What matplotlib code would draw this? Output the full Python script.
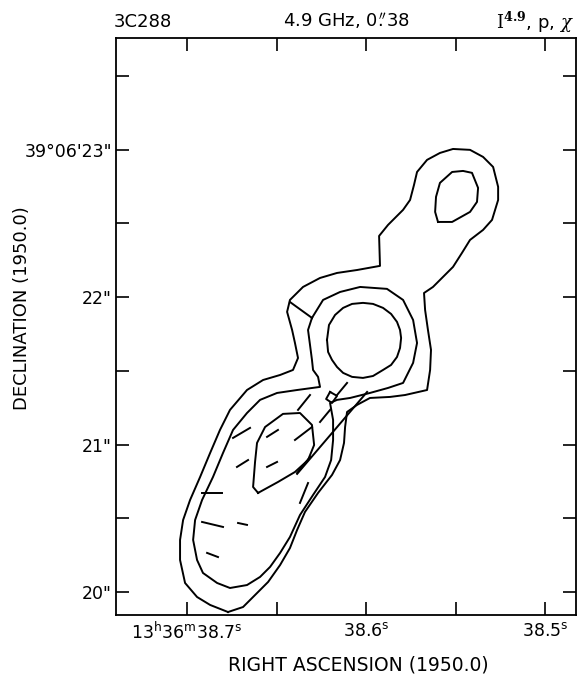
import matplotlib
matplotlib.use("Agg")
import matplotlib.pyplot as plt
from matplotlib.ticker import FixedLocator

# 3C288 at 4.9 GHz, 0.38" beam: total intensity contours + polarization vectors
# RA in seconds of time (13h36m), Dec in arcsec (39d06m)

# lowest contour, encloses the whole source
outer_ra = [38.6771, 38.6871, 38.6944, 38.7011, 38.7039, 38.7039, 38.7022, 38.6983,
            38.6927, 38.6871, 38.6816, 38.6760, 38.6665, 38.6575, 38.6480, 38.6408,
            38.6380, 38.6397, 38.6413, 38.6441, 38.6425, 38.6352, 38.6257, 38.6162,
            38.6050, 38.5922, 38.5927, 38.5877, 38.5793, 38.5754, 38.5732, 38.5715,
            38.5659, 38.5587, 38.5514, 38.5419, 38.5346, 38.5290, 38.5262, 38.5262,
            38.5296, 38.5346, 38.5419, 38.5464, 38.5514, 38.5570, 38.5626, 38.5676,
            38.5670, 38.5654, 38.5637, 38.5642, 38.5659, 38.5782, 38.5866, 38.5978,
            38.6050, 38.6106, 38.6117, 38.6123, 38.6145, 38.6190, 38.6268, 38.6341,
            38.6385, 38.6425, 38.6480, 38.6547, 38.6631, 38.6687, 38.6771]
outer_dec = [19.864, 19.912, 19.966, 20.061, 20.217, 20.353, 20.488, 20.624,
             20.780, 20.943, 21.099, 21.235, 21.370, 21.438, 21.472, 21.506,
             21.587, 21.689, 21.777, 21.900, 21.981, 22.069, 22.130, 22.164,
             22.184, 22.212, 22.415, 22.490, 22.592, 22.659, 22.761, 22.849,
             22.931, 22.978, 23.005, 22.999, 22.951, 22.883, 22.748, 22.659,
             22.524, 22.456, 22.388, 22.300, 22.205, 22.137, 22.069, 22.028,
             21.913, 21.777, 21.642, 21.506, 21.370, 21.336, 21.323, 21.316,
             21.269, 21.221, 21.119, 21.011, 20.895, 20.794, 20.672, 20.543,
             20.421, 20.298, 20.183, 20.068, 19.966, 19.898, 19.864]

# second contour: ring round the core + southern lobe
mid_ra = [38.6302, 38.6240, 38.6145, 38.6033, 38.5883, 38.5793, 38.5737, 38.5715,
          38.5737, 38.5793, 38.5877, 38.5978, 38.6089, 38.6162, 38.6201, 38.6184,
          38.6184, 38.6195, 38.6229, 38.6296, 38.6369, 38.6425, 38.6480, 38.6536,
          38.6592, 38.6665, 38.6760, 38.6832, 38.6911, 38.6944, 38.6966, 38.6955,
          38.6916, 38.6855, 38.6799, 38.6743, 38.6665, 38.6592, 38.6497, 38.6385,
          38.6257, 38.6268, 38.6296, 38.6302, 38.6313, 38.6324, 38.6302]
mid_dec = [21.859, 21.981, 22.035, 22.069, 22.056, 21.981, 21.845, 21.689,
           21.554, 21.418, 21.384, 21.350, 21.316, 21.303, 21.282, 21.167,
           21.031, 20.895, 20.780, 20.658, 20.522, 20.373, 20.265, 20.170,
           20.102, 20.047, 20.027, 20.061, 20.129, 20.217, 20.353, 20.488,
           20.624, 20.780, 20.943, 21.099, 21.214, 21.303, 21.350, 21.370,
           21.391, 21.459, 21.506, 21.574, 21.676, 21.777, 21.859]

# highest contours: core, northern hot spot, southern knot
core_ra = [38.6218, 38.6207, 38.6173, 38.6128, 38.6078, 38.6017, 38.5961, 38.5905,
           38.5860, 38.5827, 38.5810, 38.5804, 38.5810, 38.5827, 38.5860, 38.5905,
           38.5961, 38.6017, 38.6078, 38.6128, 38.6162, 38.6190, 38.6212, 38.6218]
core_dec = [21.710, 21.811, 21.879, 21.927, 21.954, 21.961, 21.954, 21.927,
            21.886, 21.832, 21.777, 21.723, 21.655, 21.594, 21.540, 21.506,
            21.465, 21.452, 21.459, 21.486, 21.526, 21.574, 21.628, 21.710]

north_ra = [38.5598, 38.5614, 38.5609, 38.5587, 38.5519, 38.5458,
            38.5408, 38.5374, 38.5380, 38.5419, 38.5519, 38.5598]
north_dec = [22.510, 22.578, 22.680, 22.775, 22.849, 22.856,
             22.843, 22.741, 22.646, 22.578, 22.510, 22.510]

south_ra = [38.6603, 38.6631, 38.6620, 38.6609, 38.6564, 38.6464, 38.6369,
            38.6302, 38.6290, 38.6324, 38.6397, 38.6492, 38.6603]
south_dec = [20.672, 20.712, 20.882, 21.011, 21.119, 21.208, 21.214,
             21.133, 20.997, 20.895, 20.814, 20.746, 20.672]

# joins between contour pieces
link_ra = [38.6425, 38.6302]
link_dec = [21.967, 21.859]
streak_ra = [38.5994, 38.6385]
streak_dec = [21.357, 20.801]
box_ra = [38.6201, 38.6162, 38.6190, 38.6223, 38.6201]
box_dec = [21.357, 21.330, 21.282, 21.309, 21.357]

# polarization E-vectors (end points)
vec_ra0 = [38.6106, 38.6313, 38.6201, 38.6648, 38.6492, 38.6302, 38.6497,
           38.6659, 38.6313, 38.6324, 38.6916, 38.6916, 38.6715, 38.6888]
vec_dec0 = [21.418, 21.336, 21.235, 21.113, 21.099, 21.119, 20.882,
            20.895, 20.916, 20.739, 20.672, 20.475, 20.468, 20.265]
vec_ra1 = [38.6162, 38.6380, 38.6257, 38.6743, 38.6553, 38.6397, 38.6553,
           38.6721, 38.6385, 38.6369, 38.6804, 38.6799, 38.6665, 38.6827]
vec_dec1 = [21.336, 21.235, 21.153, 21.045, 21.052, 21.031, 20.848,
            20.848, 20.807, 20.604, 20.672, 20.441, 20.455, 20.237]

ra_ticks = [38.7, 38.6, 38.5]
ra_labels = [r"$\mathregular{13^h36^m38.7^s}$", r"$\mathregular{38.6^s}$",
             r"$\mathregular{38.5^s}$"]
ra_minor = [38.65, 38.55]
dec_ticks = [20, 21, 22, 23]
dec_labels = ['20"', '21"', '22"', "39\u00b006'23\""]
dec_minor = [20.5, 21.5, 22.5, 23.5]

plt.rcParams['font.family'] = ['DejaVu Sans']

fig = plt.figure(figsize=(5.79, 6.79), dpi=100)
ax = fig.add_axes([0.2003, 0.0943, 0.7945, 0.8498])

lw = 1.4
for ra, dec in [(outer_ra, outer_dec), (mid_ra, mid_dec), (core_ra, core_dec),
                (north_ra, north_dec), (south_ra, south_dec),
                (link_ra, link_dec), (streak_ra, streak_dec), (box_ra, box_dec)]:
    ax.plot(ra, dec, color='black', lw=lw, solid_joinstyle='round')

for r0, d0, r1, d1 in zip(vec_ra0, vec_dec0, vec_ra1, vec_dec1):
    ax.plot([r0, r1], [d0, d1], color='black', lw=lw)

ax.set_xlim(38.7397, 38.4827)
ax.set_ylim(19.844, 23.758)

ax.xaxis.set_major_locator(FixedLocator(ra_ticks))
ax.xaxis.set_minor_locator(FixedLocator(ra_minor))
ax.set_xticklabels(ra_labels)
ax.yaxis.set_major_locator(FixedLocator(dec_ticks))
ax.yaxis.set_minor_locator(FixedLocator(dec_minor))
ax.set_yticklabels(dec_labels)

ax.tick_params(which='both', direction='in', length=9.5, width=1.2,
               top=True, right=True, labelsize=12.5, colors='black')
ax.tick_params(axis='x', pad=5)
ax.tick_params(axis='y', pad=3)
for sp in ax.spines.values():
    sp.set_linewidth(1.3)

fig.text(358 / 579, 1 - 665 / 679, "RIGHT ASCENSION (1950.0)", ha='center',
         va='center', fontsize=13.5)
fig.text(22 / 579, 1 - 308 / 679, "DECLINATION (1950.0)", ha='center',
         va='center', rotation=90, fontsize=13)

fig.text(114 / 579, 1 - 22 / 679, "3C288", ha='left', va='center', fontsize=13)
fig.text(347 / 579, 1 - 22 / 679, r"4.9 GHz, 0$\overset{\prime\prime}{.}$38",
         ha='center', va='center', fontsize=13, math_fontfamily='dejavusans')
fig.text(574 / 579, 1 - 22 / 679, r"$\mathrm{I}^{\mathbf{4.9}}$, p, $\chi$",
         ha='right', va='center', fontsize=13, math_fontfamily='dejavuserif')

fig.savefig("out.png", dpi=100)
